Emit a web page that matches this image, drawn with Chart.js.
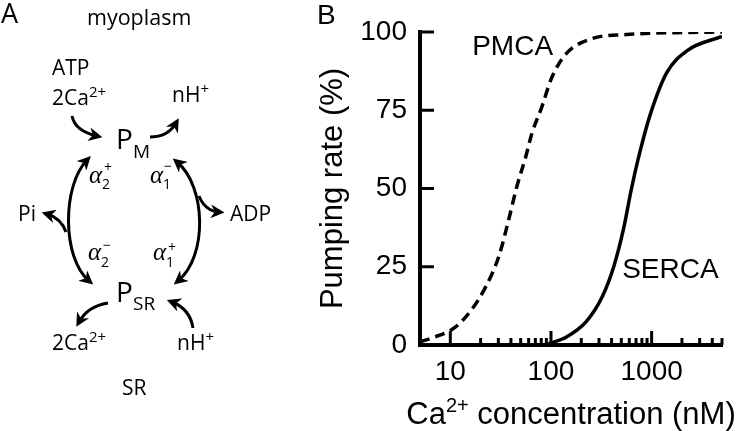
<!DOCTYPE html>
<html>
<head>
<meta charset="utf-8">
<script src="https://cdn.jsdelivr.net/npm/chart.js@4.4.1/dist/chart.umd.min.js"></script>
<style>
  body { margin: 0; background: #fff; }
  #wrap { position: relative; width: 738px; height: 431px; }
  #pumpChart { position: absolute; left: 0; top: 0; }
  #scheme { position: absolute; left: 0; top: 0; }
  #scheme text { font-family: "Open Sans", sans-serif; fill: #000; }
  #scheme .al { font-family: "Liberation Serif", serif; font-style: italic; font-size: 25px; }
  #scheme .ix { font-size: 14px; }
</style>
</head>
<body>
<div id="wrap">
  <canvas id="pumpChart" width="738" height="431"></canvas>
  <svg id="scheme" width="300" height="431" xmlns="http://www.w3.org/2000/svg">
    <defs>
      <marker id="head" viewBox="0 0 10 10" refX="6" refY="5" markerWidth="4.6" markerHeight="4.6" orient="auto-start-reverse" markerUnits="strokeWidth">
        <path d="M0,0 L10,5 L0,10 L3,5 z" fill="#000"/>
      </marker>
    </defs>
    <text x="1" y="23" font-size="27">A</text>
    <text x="87" y="25" font-size="21.5">myoplasm</text>
    <text x="52" y="75" font-size="21">ATP</text>
    <text x="52" y="105" font-size="21">2Ca<tspan font-size="15" dy="-8">2+</tspan></text>
    <text x="172" y="102" font-size="21">nH<tspan font-size="15" dy="-8">+</tspan></text>
    <text x="116" y="149" font-size="28">P</text>
    <text x="133" y="158" font-size="19">M</text>
    <text x="18" y="221" font-size="21">Pi</text>
    <text x="230" y="221" font-size="21">ADP</text>
    <text x="116" y="302" font-size="28">P</text>
    <text x="133" y="310" font-size="19">SR</text>
    <text x="52" y="350" font-size="21">2Ca<tspan font-size="15" dy="-8">2+</tspan></text>
    <text x="177" y="350" font-size="21">nH<tspan font-size="15" dy="-8">+</tspan></text>
    <text x="122" y="395" font-size="21">SR</text>

    <text class="al" x="89" y="183">α</text>
    <text class="ix" x="102" y="189">2</text>
    <text class="ix" x="104" y="172">+</text>
    <text class="al" x="150" y="183">α</text>
    <text class="ix" x="163" y="189">1</text>
    <text class="ix" x="164" y="171">−</text>
    <text class="al" x="88" y="260">α</text>
    <text class="ix" x="101" y="267">2</text>
    <text class="ix" x="103" y="250">−</text>
    <text class="al" x="153" y="260">α</text>
    <text class="ix" x="166" y="267">1</text>
    <text class="ix" x="168" y="252">+</text>

    <g fill="none" stroke="#000" stroke-width="3">
      <path d="M72,116 Q75,131 97,136" marker-end="url(#head)"/>
      <path d="M150,137 Q168,137 176,123" marker-end="url(#head)"/>
      <path d="M89,281 C62,258 62,186 87,160" marker-start="url(#head)" marker-end="url(#head)"/>
      <path d="M66,232 Q61,218 47,214" marker-end="url(#head)"/>
      <path d="M177,162 C206,186 208,256 178,281" marker-start="url(#head)" marker-end="url(#head)"/>
      <path d="M199,196 Q205,211 219,212" marker-end="url(#head)"/>
      <path d="M108,303 Q88,306 79,322" marker-end="url(#head)"/>
      <path d="M193,328 Q190,309 172,302" marker-end="url(#head)"/>
    </g>
  </svg>
</div>
<script>
// Ca2+ concentration (nM) and pumping rate (%)
const pmcaConc = [5, 6.5, 11.2, 16.2, 22.4, 30.2, 38, 45.7, 56, 64.6, 81, 102, 141, 257, 562, 1778, 5000];
const pmcaRate = [1.0, 2.2, 5.7, 11.2, 18.5, 28.1, 40, 50.5, 60, 67.6, 76, 85.5, 93, 97.9, 99.2, 99.8, 100];

const sercaConc = [95, 141, 224, 324, 420, 525, 631, 776, 977, 1413, 2239, 5000];
const sercaRate = [0.4, 2.5, 7.5, 15.5, 25, 37, 50, 62.5, 74, 87, 94, 98.6];

const yTicks = [0, 25, 50, 75, 100];
const xLabelTicks = [10, 100, 1000];
const xMinorTicks = [20, 30, 40, 50, 60, 70, 80, 90, 200, 300, 400, 500, 600, 700, 800, 900, 2000, 3000, 4000, 5000];

const FONT = '"Liberation Sans", Arial, sans-serif';

function toPoints(xs, ys) {
  return xs.map((v, i) => ({ x: v, y: ys[i] }));
}

const decorPlugin = {
  id: 'decor',
  afterDraw: (chart) => {
    const { ctx, chartArea, scales: { x, y } } = chart;
    ctx.save();
    ctx.strokeStyle = '#000';
    ctx.lineWidth = 3;
    ctx.lineCap = 'butt';

    // inward ticks on the x axis
    xLabelTicks.concat(xMinorTicks).forEach((v) => {
      const px = x.getPixelForValue(v);
      const len = xLabelTicks.includes(v) ? 14 : 7;
      ctx.beginPath();
      ctx.moveTo(px, chartArea.bottom);
      ctx.lineTo(px, chartArea.bottom - len);
      ctx.stroke();
    });

    // inward ticks on the y axis
    yTicks.filter(v => v > 0).forEach((v) => {
      const py = y.getPixelForValue(v);
      ctx.beginPath();
      ctx.moveTo(chartArea.left, py);
      ctx.lineTo(chartArea.left + 14, py);
      ctx.stroke();
    });

    ctx.fillStyle = '#000';
    ctx.textBaseline = 'alphabetic';
    ctx.textAlign = 'left';
    ctx.font = '28px ' + FONT;
    ctx.fillText('B', 317, 24);
    ctx.fillText('PMCA', x.getPixelForValue(16.5), y.getPixelForValue(92.5));
    ctx.fillText('SERCA', x.getPixelForValue(510), y.getPixelForValue(21.5));

    // x axis title with superscript
    const base = 424;
    ctx.font = '31px ' + FONT;
    const w1 = ctx.measureText('Ca').width;
    const w3 = ctx.measureText(' concentration (nM)').width;
    ctx.font = '20px ' + FONT;
    const w2 = ctx.measureText('2+').width;
    let left = (chartArea.left + chartArea.right) / 2 - (w1 + w2 + w3) / 2;
    ctx.font = '31px ' + FONT;
    ctx.fillText('Ca', left, base);
    ctx.font = '20px ' + FONT;
    ctx.fillText('2+', left + w1, base - 12);
    ctx.font = '31px ' + FONT;
    ctx.fillText(' concentration (nM)', left + w1 + w2, base);
    ctx.restore();
  }
};

const pumpChart = new Chart(document.getElementById('pumpChart').getContext('2d'), {
  type: 'scatter',
  data: {
    datasets: [{
      label: 'PMCA',
      data: toPoints(pmcaConc, pmcaRate),
      showLine: true,
      borderColor: '#000',
      borderWidth: 3.5,
      borderDash: [10, 6],
      pointRadius: 0,
      cubicInterpolationMode: 'monotone'
    }, {
      label: 'SERCA',
      data: toPoints(sercaConc, sercaRate),
      showLine: true,
      borderColor: '#000',
      borderWidth: 3.5,
      pointRadius: 0,
      cubicInterpolationMode: 'monotone'
    }]
  },
  options: {
    responsive: false,
    animation: false,
    layout: { padding: { left: 300, top: 32, right: 16, bottom: 0 } },
    plugins: {
      legend: { display: false },
      tooltip: { enabled: false }
    },
    scales: {
      x: {
        type: 'logarithmic',
        min: 5,
        max: 5000,
        afterFit: (scale) => { scale.height = 86; },
        afterBuildTicks: (scale) => { scale.ticks = xLabelTicks.map(v => ({ value: v })); },
        grid: { drawOnChartArea: false, drawTicks: false },
        border: { color: '#000', width: 4 },
        ticks: {
          autoSkip: false,
          maxRotation: 0,
          padding: 10,
          color: '#000',
          font: { family: FONT, size: 28 },
          callback: (v) => String(v)
        }
      },
      y: {
        min: 0,
        max: 100,
        afterFit: (scale) => { scale.width = 120; },
        afterBuildTicks: (scale) => { scale.ticks = yTicks.map(v => ({ value: v })); },
        grid: { drawOnChartArea: false, drawTicks: false },
        border: { color: '#000', width: 4 },
        title: {
          display: true,
          text: 'Pumping rate (%)',
          color: '#000',
          font: { family: FONT, size: 31 },
          padding: { top: 15, bottom: 0 }
        },
        ticks: {
          padding: 13,
          color: '#000',
          font: { family: FONT, size: 28 }
        }
      }
    }
  },
  plugins: [decorPlugin]
});
</script>
</body>
</html>
